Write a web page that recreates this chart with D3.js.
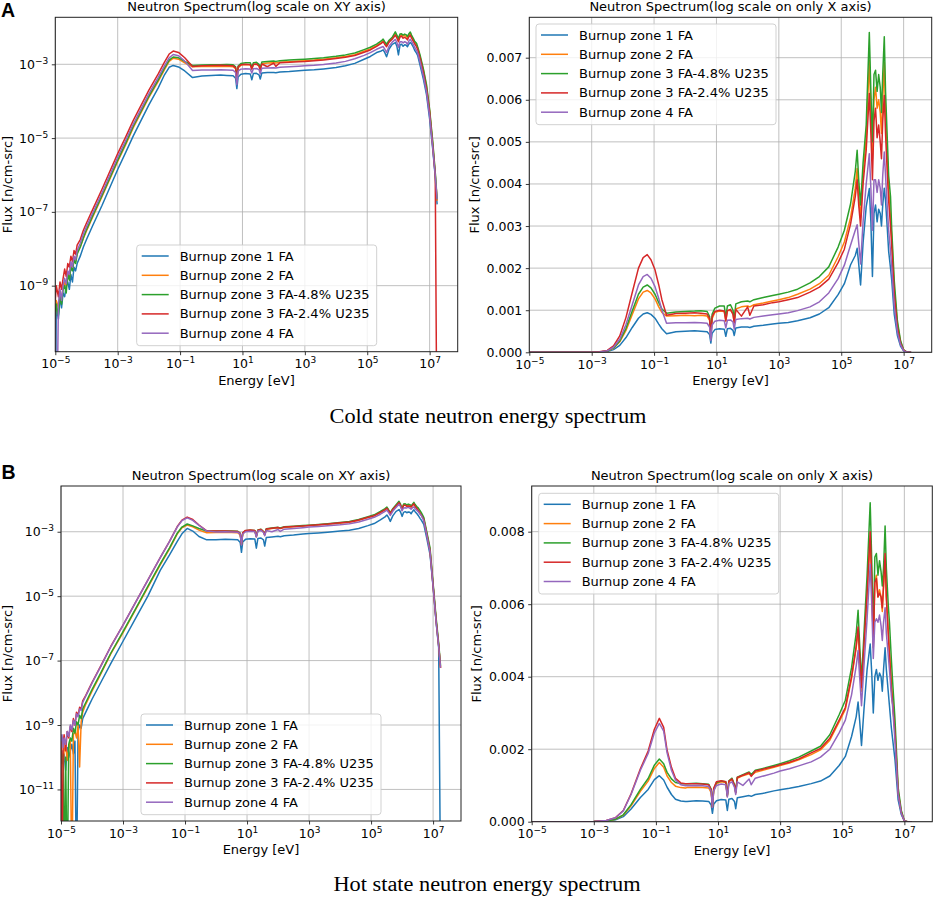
<!DOCTYPE html>
<html><head><meta charset="utf-8">
<script src="https://cdn.jsdelivr.net/npm/d3@7"></script>
<style>body{margin:0;background:#fff}svg{display:block}</style>
</head><body>
<svg id="fig" width="934" height="900"></svg>
<script>
// ---------------- DATA (energies as log10(E/eV), flux in n/cm-src) ----------------
const seriesNames = ["Burnup zone 1 FA","Burnup zone 2 FA","Burnup zone 3 FA-4.8% U235","Burnup zone 3 FA-2.4% U235","Burnup zone 4 FA"];
const seriesColors = ["#1f77b4","#ff7f0e","#2ca02c","#d62728","#9467bd"];
const xTickExp = [-5,-3,-1,1,3,5,7];
const coldLogYTickExp = [-9,-7,-5,-3];
const hotLogYTickExp = [-11,-9,-7,-5,-3];
const coldLinYTicks = [0,0.001,0.002,0.003,0.004,0.005,0.006,0.007];
const hotLinYTicks = [0,0.002,0.004,0.006,0.008];
const captions = ["Cold state neutron energy spectrum","Hot state neutron energy spectrum"];

// shared epithermal / fast energy grid (log10 E)
const midExp = [0.0,0.3,0.5,0.7,0.78,0.82,0.86,0.95,1.1,1.25,
 1.3,1.35,1.45,1.53,1.57,1.62,1.8,2.0,2.07,2.2,
 2.5,2.8,3.0,3.3,3.6,4.0,4.3,4.6,4.9,5.1,
 5.3,5.45,5.51,5.56,5.62,5.7,5.8,5.9,5.95,6.0,
 6.05,6.1,6.15,6.2,6.25,6.29,6.33,6.38,6.42,6.48,
 6.52,6.58,6.62,6.7,6.8,6.9,7.0,7.1,7.18,7.24];

// ---- COLD state ----
const coldLogThermExp = [-5.0,-4.97,-4.9,-4.85,-4.8,-4.75,-4.7,-4.65,-4.6,-4.55,-4.5,-4.45,-4.4,-4.35,-4.3,-4.2,-4.1,-4.0,-3.8,-3.5,-3.0,-2.75,-2.5,-2.0,-1.7,-1.5,-1.35,-1.22,-1.05,-0.85,-0.6,-0.3];
const coldLogZ1 = [1e-14,2.51e-10,1.26e-10,5.01e-10,2.51e-10,6.31e-10,5.01e-10,1.0e-9,1.26e-9,7.94e-10,2.0e-9,1.26e-9,3.16e-9,2.51e-9,3.98e-9,6.31e-9,1.12e-8,1.78e-8,4.27e-8,1.51e-7,1.41e-6,3.98e-6,1.15e-5,7.94e-5,2.3e-4,5.2e-4,8.3e-4,9.33e-4,8.5e-4,6.6e-4,4.37e-4,4.79e-4];
const coldLogZ2 = [1.58e-10,3.98e-10,2.51e-10,6.31e-10,4.47e-10,8.91e-10,1.26e-9,1.0e-9,2.24e-9,1.58e-9,3.55e-9,2.82e-9,5.01e-9,4.47e-9,7.94e-9,1.12e-8,1.91e-8,3.02e-8,7.24e-8,2.63e-7,2.34e-6,6.46e-6,1.91e-5,1.26e-4,3.45e-4,7.2e-4,1.2e-3,1.46e-3,1.38e-3,1.1e-3,8.6e-4,8.7e-4];
const coldLogZ3 = [1.26e-10,3.16e-10,1.58e-10,5.01e-10,3.16e-10,7.94e-10,1.0e-9,6.31e-10,2.0e-9,1.41e-9,3.16e-9,2.51e-9,5.01e-9,3.98e-9,7.08e-9,1.12e-8,2.0e-8,3.31e-8,7.94e-8,2.82e-7,2.51e-6,7.08e-6,2.09e-5,1.38e-4,3.8e-4,7.9e-4,1.3e-3,1.58e-3,1.5e-3,1.2e-3,9.3e-4,9.6e-4];
const coldLogZ3b = [3.98e-10,1.0e-9,5.01e-10,1.26e-9,7.94e-10,1.58e-9,2.82e-9,1.78e-9,3.98e-9,3.16e-9,6.31e-9,4.47e-9,8.91e-9,7.08e-9,1.26e-8,1.78e-8,3.16e-8,5.01e-8,1.17e-7,4.17e-7,3.8e-6,1.05e-5,3.02e-5,2.0e-4,5.5e-4,1.15e-3,1.9e-3,2.29e-3,2.1e-3,1.5e-3,8.7e-4,9.1e-4];
const coldLogZ4 = [2.0e-10,1e-14,3.16e-10,7.94e-10,3.98e-10,1.0e-9,1.58e-9,1.12e-9,2.51e-9,2.0e-9,4.47e-9,3.16e-9,6.31e-9,5.01e-9,8.91e-9,1.41e-8,2.51e-8,3.98e-8,9.33e-8,3.31e-7,3.02e-6,8.32e-6,2.4e-5,1.58e-4,4.4e-4,9.1e-4,1.5e-3,1.84e-3,1.7e-3,1.22e-3,6.8e-4,7.0e-4];

const coldLinThermExp = [-5.0,-3.5,-3.0,-2.75,-2.5,-2.3,-2.1,-1.9,-1.7,-1.5,-1.35,-1.22,-1.1,-0.97,-0.85,-0.75,-0.6,-0.3];
const coldLinZ1 = [0,4e-7,1.7e-6,5e-6,1.9e-5,6.3e-5,1.65e-4,3.5e-4,5.9e-4,8.1e-4,9.1e-4,9.4e-4,9.0e-4,8.1e-4,6.7e-4,5.6e-4,4.4e-4,4.9e-4];
const coldLinZ2 = [0,6e-7,2.5e-6,7.5e-6,2.8e-5,9.5e-5,2.5e-4,5.2e-4,9.0e-4,1.27e-3,1.43e-3,1.47e-3,1.41e-3,1.27e-3,1.08e-3,9.5e-4,8.6e-4,8.7e-4];
const coldLinZ3 = [0,7e-7,2.8e-6,8e-6,3.1e-5,1.04e-4,2.7e-4,5.7e-4,9.8e-4,1.38e-3,1.55e-3,1.6e-3,1.53e-3,1.38e-3,1.18e-3,1.03e-3,9.3e-4,9.6e-4];
const coldLinZ3b = [0,1e-6,4e-6,1.2e-5,4.5e-5,1.5e-4,3.9e-4,8.3e-4,1.42e-3,2.0e-3,2.25e-3,2.32e-3,2.2e-3,1.96e-3,1.6e-3,1.25e-3,8.8e-4,9.2e-4];
const coldLinZ4 = [0,8e-7,3.2e-6,1e-5,3.6e-5,1.2e-4,3.1e-4,6.6e-4,1.13e-3,1.6e-3,1.8e-3,1.85e-3,1.76e-3,1.56e-3,1.28e-3,1.0e-3,6.9e-4,7.0e-4];

const coldMidZ1 = [5.0e-4,5.1e-4,5.0e-4,4.9e-4,4.2e-4,2.2e-4,4.5e-4,5.4e-4,5.6e-4,5.5e-4,
 3.8e-4,5.6e-4,5.7e-4,5.2e-4,4.0e-4,5.8e-4,6.0e-4,6.0e-4,5.9e-4,6.2e-4,
 6.4e-4,6.7e-4,6.9e-4,7.1e-4,7.5e-4,8.2e-4,9.1e-4,1.06e-3,1.37e-3,1.63e-3,
 2.08e-3,2.3e-3,2.47e-3,2.1e-3,1.6e-3,2.6e-3,3.46e-3,3.89e-3,3.1e-3,1.8e-3,
 3.3e-3,3.5e-3,3.1e-3,3.4e-3,3.3e-3,3.0e-3,3.5e-3,3.9e-3,3.6e-3,2.9e-3,
 2.4e-3,2.0e-3,1.7e-3,9e-4,4e-4,1.5e-4,3.3e-5,5e-6,9e-7,1.6e-7];
const coldMidZ2 = [8.8e-4,8.7e-4,8.8e-4,8.6e-4,7.6e-4,3.4e-4,8.0e-4,9.5e-4,9.8e-4,9.7e-4,
 7.4e-4,9.9e-4,1.0e-3,9.2e-4,7.0e-4,1.03e-3,1.08e-3,1.1e-3,1.08e-3,1.13e-3,
 1.17e-3,1.22e-3,1.25e-3,1.3e-3,1.38e-3,1.5e-3,1.63e-3,1.83e-3,2.27e-3,2.62e-3,
 3.2e-3,3.9e-3,4.37e-3,3.7e-3,3.2e-3,4.2e-3,5.1e-3,6.94e-3,5.7e-3,4.6e-3,
 6.0e-3,6.3e-3,5.8e-3,6.0e-3,5.7e-3,5.2e-3,6.0e-3,6.9e-3,5.7e-3,4.6e-3,
 3.9e-3,3.2e-3,2.7e-3,1.5e-3,6.8e-4,2.5e-4,5.5e-5,7e-6,1.1e-6,2.0e-7];
const coldMidZ3 = [9.7e-4,9.8e-4,9.9e-4,9.7e-4,8.5e-4,3.8e-4,9.0e-4,1.05e-3,1.1e-3,1.1e-3,
 8.3e-4,1.1e-3,1.13e-3,1.0e-3,7.8e-4,1.15e-3,1.2e-3,1.22e-3,1.2e-3,1.25e-3,
 1.3e-3,1.35e-3,1.38e-3,1.43e-3,1.5e-3,1.65e-3,1.8e-3,2.03e-3,2.5e-3,2.9e-3,
 3.53e-3,4.3e-3,4.8e-3,4.1e-3,3.5e-3,4.5e-3,5.4e-3,7.6e-3,6.2e-3,5.0e-3,
 6.6e-3,6.7e-3,6.2e-3,6.6e-3,6.3e-3,5.7e-3,6.6e-3,7.5e-3,6.2e-3,5.0e-3,
 4.2e-3,3.7e-3,2.9e-3,1.7e-3,7.5e-4,2.8e-4,6e-5,8e-6,1.2e-6,2.2e-7];
const coldMidZ3b = [9.3e-4,9.4e-4,9.3e-4,9.1e-4,8.0e-4,3.5e-4,8.5e-4,9.7e-4,1.0e-3,9.8e-4,
 7.5e-4,9.9e-4,1.02e-3,9.0e-4,7.0e-4,1.02e-3,8.6e-4,1.08e-3,8.8e-4,1.1e-3,
 1.13e-3,1.18e-3,1.2e-3,1.25e-3,1.3e-3,1.43e-3,1.55e-3,1.74e-3,2.13e-3,2.45e-3,
 3.05e-3,3.7e-3,4.1e-3,3.5e-3,3.0e-3,4.0e-3,4.8e-3,6.15e-3,5.2e-3,4.1e-3,
 5.5e-3,5.8e-3,5.1e-3,5.4e-3,5.0e-3,4.6e-3,5.5e-3,6.1e-3,5.2e-3,4.2e-3,
 3.6e-3,3.0e-3,2.5e-3,1.4e-3,6e-4,2.2e-4,5e-5,6e-6,1e-6,1e-14];
const coldMidZ4 = [7.0e-4,7.1e-4,7.0e-4,6.9e-4,6.0e-4,2.8e-4,6.5e-4,7.4e-4,7.6e-4,7.5e-4,
 5.8e-4,7.6e-4,7.7e-4,7.2e-4,5.5e-4,7.8e-4,8.0e-4,8.1e-4,7.9e-4,8.3e-4,
 8.6e-4,8.9e-4,9.1e-4,9.4e-4,9.9e-4,1.08e-3,1.2e-3,1.41e-3,1.75e-3,2.07e-3,
 2.55e-3,2.9e-3,3.03e-3,2.6e-3,2.1e-3,3.1e-3,4.0e-3,4.72e-3,3.9e-3,2.9e-3,
 4.1e-3,4.1e-3,3.8e-3,4.1e-3,3.9e-3,3.5e-3,4.2e-3,4.76e-3,4.2e-3,3.4e-3,
 2.9e-3,2.4e-3,2.0e-3,1.1e-3,4.8e-4,1.8e-4,4e-5,5.5e-6,1e-6,2.2e-7];

// ---- HOT state ----
const hotLogThermExp = [-5.0,-4.97,-4.93,-4.9,-4.85,-4.8,-4.75,-4.7,-4.65,-4.6,-4.55,-4.5,-4.45,-4.4,-4.35,-4.3,-4.2,-4.1,-4.0,-3.7,-3.4,-3.0,-2.6,-2.2,-1.8,-1.5,-1.25,-1.1,-0.93,-0.75,-0.55,-0.3];
const hotLogZ1 = [1.0e-10,1.58e-10,6.31e-11,1.26e-10,3.98e-11,2.0e-10,1.0e-10,1.58e-10,2.51e-10,1.26e-10,3.16e-10,1e-14,6.31e-10,1.0e-9,7.94e-10,1.58e-9,2.51e-9,3.98e-9,6.31e-9,2.24e-8,7.94e-8,3.98e-7,2.0e-6,1.0e-5,6.31e-5,1.9e-4,5.0e-4,8.6e-4,1.27e-3,1.05e-3,7.1e-4,5.6e-4];
const hotLogZ2 = [2.0e-10,1.26e-10,5.01e-11,1.58e-10,2.51e-10,7.94e-11,2.0e-10,3.16e-10,1e-14,5.01e-10,6.31e-10,3.98e-10,1.0e-9,5.01e-11,1.26e-9,2.51e-9,4.47e-9,7.08e-9,1.12e-8,4.17e-8,1.58e-7,7.41e-7,3.72e-6,1.86e-5,9.33e-5,2.95e-4,8.6e-4,1.33e-3,1.62e-3,1.42e-3,1.12e-3,9.3e-4];
const hotLogZ3 = [1.58e-10,6.31e-11,1.26e-10,1e-14,1.0e-10,1e-14,2.51e-10,3.98e-10,3.16e-10,7.94e-10,5.62e-10,1.26e-9,1.0e-9,2.0e-9,1.58e-9,3.16e-9,5.01e-9,7.94e-9,1.26e-8,4.47e-8,1.66e-7,7.94e-7,3.98e-6,2.0e-5,1.0e-4,3.16e-4,9.0e-4,1.4e-3,1.74e-3,1.52e-3,1.26e-3,1.05e-3];
const hotLogZ3b = [3.98e-10,1e-14,2.51e-10,5.01e-10,1.58e-10,6.31e-10,3.98e-10,8.91e-10,6.31e-10,1.58e-9,1.0e-9,2.51e-9,2.0e-9,3.55e-9,3.16e-9,5.62e-9,8.32e-9,1.32e-8,2.09e-8,7.41e-8,2.69e-7,1.26e-6,6.31e-6,3.16e-5,1.58e-4,5.01e-4,1.45e-3,2.3e-3,2.85e-3,2.4e-3,1.62e-3,1.07e-3];
const hotLogZ4 = [3.16e-10,5.01e-10,2.0e-10,3.98e-10,2.51e-10,6.31e-10,4.47e-10,1.0e-9,7.08e-10,1.41e-9,1.0e-9,2.24e-9,1.78e-9,3.16e-9,2.82e-9,5.01e-9,7.94e-9,1.26e-8,2.0e-8,7.08e-8,2.63e-7,1.26e-6,6.31e-6,3.16e-5,1.58e-4,5.01e-4,1.42e-3,2.2e-3,2.69e-3,2.25e-3,1.58e-3,1.05e-3];

const hotLinThermExp = [-5.0,-3.5,-3.0,-2.6,-2.3,-2.05,-1.8,-1.5,-1.25,-1.05,-0.89,-0.75,-0.64,-0.5,-0.37,-0.2,-0.05];
const hotLinZ1 = [0,2e-7,2.2e-6,1.6e-5,5.2e-5,1.4e-4,3.5e-4,6.7e-4,8.9e-4,1.16e-3,1.27e-3,1.15e-3,9.5e-4,7.5e-4,6.2e-4,5.7e-4,5.6e-4];
const hotLinZ2 = [0,3e-7,2.8e-6,2.1e-5,6.5e-5,1.8e-4,4.4e-4,8.4e-4,1.12e-3,1.47e-3,1.63e-3,1.5e-3,1.26e-3,1.08e-3,9.8e-4,9.4e-4,9.3e-4];
const hotLinZ3 = [0,3e-7,3e-6,2.2e-5,6.9e-5,1.9e-4,4.7e-4,8.9e-4,1.19e-3,1.56e-3,1.73e-3,1.6e-3,1.36e-3,1.18e-3,1.08e-3,1.05e-3,1.05e-3];
const hotLinZ3b = [0,5e-7,5e-6,3.6e-5,1.12e-4,3.1e-4,7.7e-4,1.46e-3,1.95e-3,2.55e-3,2.85e-3,2.6e-3,1.97e-3,1.5e-3,1.2e-3,1.07e-3,1.05e-3];
const hotLinZ4 = [0,5e-7,5e-6,3.5e-5,1.1e-4,3e-4,7.5e-4,1.42e-3,1.88e-3,2.45e-3,2.71e-3,2.5e-3,1.9e-3,1.42e-3,1.15e-3,1.02e-3,9.9e-4];

const hotMidZ1 = [5.6e-4,5.8e-4,5.7e-4,5.6e-4,4.6e-4,2.3e-4,4.8e-4,5.8e-4,6.1e-4,6.0e-4,
 3.1e-4,6.2e-4,6.4e-4,5.6e-4,3.6e-4,6.6e-4,6.9e-4,7.2e-4,7.0e-4,7.5e-4,
 7.9e-4,8.5e-4,8.8e-4,9.2e-4,9.7e-4,1.05e-3,1.12e-3,1.26e-3,1.55e-3,1.8e-3,
 2.35e-3,2.9e-3,3.3e-3,2.8e-3,2.1e-3,3.1e-3,4.2e-3,4.9e-3,4.1e-3,3.0e-3,
 4.0e-3,4.2e-3,3.9e-3,4.1e-3,4.0e-3,3.6e-3,4.2e-3,4.8e-3,4.2e-3,3.6e-3,
 3.2e-3,2.6e-3,2.3e-3,1.7e-3,6e-4,2e-4,2e-5,1.5e-6,2.5e-7,1e-14];
const hotMidZ2 = [9.4e-4,9.5e-4,9.4e-4,9.3e-4,8.0e-4,4.0e-4,8.5e-4,1.05e-3,1.1e-3,1.08e-3,
 7.0e-4,1.1e-3,1.17e-3,1.0e-3,8.0e-4,1.2e-3,1.27e-3,1.32e-3,1.28e-3,1.36e-3,
 1.43e-3,1.5e-3,1.55e-3,1.62e-3,1.71e-3,1.85e-3,1.98e-3,2.25e-3,2.75e-3,3.1e-3,
 3.95e-3,4.8e-3,5.3e-3,4.5e-3,3.6e-3,4.8e-3,6.2e-3,7.8e-3,6.6e-3,4.9e-3,
 6.6e-3,6.8e-3,6.2e-3,6.4e-3,6.2e-3,5.8e-3,6.5e-3,7.2e-3,6.2e-3,5.3e-3,
 4.7e-3,3.9e-3,3.3e-3,2.5e-3,8.5e-4,2.8e-4,2.2e-5,1.7e-6,3e-7,6e-8];
const hotMidZ3 = [1.05e-3,1.06e-3,1.05e-3,1.03e-3,9.0e-4,4.2e-4,9.0e-4,1.08e-3,1.12e-3,1.1e-3,
 7.2e-4,1.13e-3,1.2e-3,1.02e-3,8.2e-4,1.23e-3,1.3e-3,1.37e-3,1.3e-3,1.42e-3,
 1.48e-3,1.55e-3,1.6e-3,1.68e-3,1.78e-3,1.95e-3,2.08e-3,2.4e-3,2.95e-3,3.35e-3,
 4.25e-3,5.2e-3,5.83e-3,4.9e-3,3.9e-3,5.2e-3,6.8e-3,8.8e-3,7.2e-3,5.2e-3,
 7.3e-3,7.4e-3,6.8e-3,7.2e-3,6.9e-3,6.5e-3,7.0e-3,8.16e-3,7.0e-3,6.0e-3,
 5.5e-3,4.5e-3,3.9e-3,2.8e-3,9.5e-4,3.2e-4,2.5e-5,2e-6,3.5e-7,7e-8];
const hotMidZ3b = [1.05e-3,1.05e-3,1.04e-3,1.02e-3,8.8e-4,4.1e-4,9.2e-4,1.1e-3,1.13e-3,1.1e-3,
 7.3e-4,1.12e-3,1.18e-3,1.0e-3,8.0e-4,1.22e-3,1.28e-3,1.35e-3,1.25e-3,1.4e-3,
 1.46e-3,1.52e-3,1.57e-3,1.64e-3,1.73e-3,1.9e-3,2.02e-3,2.3e-3,2.8e-3,3.15e-3,
 4.0e-3,4.85e-3,5.37e-3,4.6e-3,3.7e-3,4.9e-3,6.3e-3,8.0e-3,6.7e-3,4.8e-3,
 6.6e-3,6.7e-3,6.2e-3,6.3e-3,6.2e-3,5.9e-3,6.5e-3,7.4e-3,6.2e-3,5.2e-3,
 4.6e-3,3.7e-3,3.3e-3,2.4e-3,8e-4,2.6e-4,2.1e-5,1.6e-6,3e-7,6e-8];
const hotMidZ4 = [9.9e-4,1.0e-3,9.9e-4,9.7e-4,8.4e-4,3.9e-4,8.5e-4,1.0e-3,1.04e-3,1.02e-3,
 6.8e-4,1.05e-3,1.1e-3,9.5e-4,7.5e-4,1.1e-3,1.0e-3,1.18e-3,1.02e-3,1.2e-3,
 1.27e-3,1.34e-3,1.4e-3,1.46e-3,1.54e-3,1.65e-3,1.78e-3,2.0e-3,2.45e-3,2.8e-3,
 3.5e-3,4.3e-3,4.72e-3,4.0e-3,3.2e-3,4.3e-3,5.6e-3,7.1e-3,6.0e-3,4.5e-3,
 5.5e-3,5.6e-3,5.5e-3,5.7e-3,5.4e-3,5.0e-3,5.5e-3,5.9e-3,5.2e-3,4.6e-3,
 4.2e-3,3.5e-3,3.2e-3,2.2e-3,7.5e-4,2.4e-4,2e-5,1.5e-6,2.8e-7,6e-8];

// ---------------- LAYOUT ----------------
const FONT = "'DejaVu Sans', sans-serif";
const titleLog = "Neutron Spectrum(log scale on XY axis)";
const titleLin = "Neutron Spectrum(log scale on only X axis)";
const panels = [
  {id:"alog", l:55.3, r:457.7, t:17.3, b:351.7, yLog:true, yMinExp:-10.79, yMaxExp:-1.726, yTicks:coldLogYTickExp,
   thermExp:coldLogThermExp, therm:[coldLogZ1,coldLogZ2,coldLogZ3,coldLogZ3b,coldLogZ4],
   mid:[coldMidZ1,coldMidZ2,coldMidZ3,coldMidZ3b,coldMidZ4], title:titleLog, legX:136.7, legY:245, ylabX:7.3},
  {id:"alin", l:529.3, r:931.7, t:17.3, b:352.3, yLog:false, yMax:0.00796, yTicks:coldLinYTicks,
   thermExp:coldLinThermExp, therm:[coldLinZ1,coldLinZ2,coldLinZ3,coldLinZ3b,coldLinZ4],
   mid:[coldMidZ1,coldMidZ2,coldMidZ3,coldMidZ3b,coldMidZ4], title:titleLin, legX:536, legY:24, ylabX:474},
  {id:"blog", l:61, r:461, t:486, b:821, yLog:true, yMinExp:-11.98, yMaxExp:-1.58, yTicks:hotLogYTickExp,
   thermExp:hotLogThermExp, therm:[hotLogZ1,hotLogZ2,hotLogZ3,hotLogZ3b,hotLogZ4],
   mid:[hotMidZ1,hotMidZ2,hotMidZ3,hotMidZ3b,hotMidZ4], title:titleLog, legX:141, legY:714, ylabX:7.3},
  {id:"blin", l:531.7, r:932.3, t:486, b:821.7, yLog:false, yMax:0.00926, yTicks:hotLinYTicks,
   thermExp:hotLinThermExp, therm:[hotLinZ1,hotLinZ2,hotLinZ3,hotLinZ3b,hotLinZ4],
   mid:[hotMidZ1,hotMidZ2,hotMidZ3,hotMidZ3b,hotMidZ4], title:titleLin, legX:538.7, legY:493.3, ylabX:476.7}
];
const X_MAX_EXP = 7.9;

const svg = d3.select("#fig");
const defs = svg.append("defs");

function powLabels(axisG){
  axisG.selectAll(".tick text").each(function(d){
    const e = Math.round(Math.log10(d));
    const t = d3.select(this).text(null);
    t.append("tspan").text("10");
    t.append("tspan").attr("font-size","0.72em").attr("dy","-0.55em").text((e<0?"\u2212":"")+Math.abs(e));
  });
}

panels.forEach(p=>{
  const g = svg.append("g");
  const x = d3.scaleLog().domain([1e-5, Math.pow(10,X_MAX_EXP)]).range([p.l,p.r]);
  const y = p.yLog ? d3.scaleLog().domain([Math.pow(10,p.yMinExp), Math.pow(10,p.yMaxExp)]).range([p.b,p.t])
                   : d3.scaleLinear().domain([0,p.yMax]).range([p.b,p.t]);
  const xt = xTickExp.map(e=>Math.pow(10,e));
  const yt = p.yLog ? p.yTicks.map(e=>Math.pow(10,e)) : p.yTicks;

  defs.append("clipPath").attr("id","clip-"+p.id).append("rect")
    .attr("x",p.l).attr("y",p.t).attr("width",p.r-p.l).attr("height",p.b-p.t);

  // grid
  const grid = g.append("g").attr("stroke","#b0b0b0").attr("stroke-width",0.8);
  grid.selectAll("line.gx").data(xt).join("line").attr("class","gx")
    .attr("x1",d=>x(d)).attr("x2",d=>x(d)).attr("y1",p.t).attr("y2",p.b);
  grid.selectAll("line.gy").data(yt).join("line").attr("class","gy")
    .attr("x1",p.l).attr("x2",p.r).attr("y1",d=>y(d)).attr("y2",d=>y(d));

  // data lines
  const lg = g.append("g").attr("clip-path","url(#clip-"+p.id+")");
  seriesNames.forEach((name,i)=>{
    const pts = p.thermExp.map((e,j)=>[Math.pow(10,e), p.therm[i][j]])
      .concat(midExp.map((e,j)=>[Math.pow(10,e), p.mid[i][j]]));
    const line = d3.line().x(d=>x(d[0])).y(d=>y(p.yLog ? Math.max(d[1],1e-30) : d[1]));
    lg.append("path").attr("d",line(pts)).attr("fill","none")
      .attr("stroke",seriesColors[i]).attr("stroke-width",1.5)
      .attr("stroke-linejoin","round").attr("stroke-linecap","butt");
  });

  // frame
  g.append("rect").attr("x",p.l).attr("y",p.t).attr("width",p.r-p.l).attr("height",p.b-p.t)
    .attr("fill","none").attr("stroke","#222").attr("stroke-width",1);

  // axes
  const xa = g.append("g").attr("transform",`translate(0,${p.b})`)
    .call(d3.axisBottom(x).tickValues(xt).tickSize(3.5).tickPadding(4.2));
  xa.select(".domain").remove();
  xa.selectAll(".tick line").attr("stroke","#222").attr("stroke-width",0.9);
  xa.selectAll(".tick text").attr("font-size",12.5).attr("font-family",FONT).attr("fill","#000");
  powLabels(xa);

  const ya = g.append("g").attr("transform",`translate(${p.l},0)`)
    .call(d3.axisLeft(y).tickValues(yt).tickSize(3.5).tickPadding(3.5)
      .tickFormat(p.yLog ? null : d3.format(".3f")));
  ya.select(".domain").remove();
  ya.selectAll(".tick line").attr("stroke","#222").attr("stroke-width",0.9);
  ya.selectAll(".tick text").attr("font-size",12.5).attr("font-family",FONT).attr("fill","#000");
  if (p.yLog) powLabels(ya);

  // title and labels
  g.append("text").attr("x",(p.l+p.r)/2).attr("y",p.t-6).attr("text-anchor","middle")
    .attr("font-family",FONT).attr("font-size",13).text(p.title);
  g.append("text").attr("x",(p.l+p.r)/2).attr("y",p.b+33).attr("text-anchor","middle")
    .attr("font-family",FONT).attr("font-size",13).text("Energy [eV]");
  g.append("text").attr("transform",`translate(${p.ylabX+4.6},${(p.t+p.b)/2}) rotate(-90)`)
    .attr("text-anchor","middle").attr("font-family",FONT).attr("font-size",13).text("Flux [n/cm-src]");

  // legend
  const leg = g.append("g").attr("transform",`translate(${p.legX},${p.legY})`);
  leg.append("rect").attr("width",240).attr("height",100.7).attr("rx",3).attr("ry",3)
    .attr("fill","#fff").attr("fill-opacity",0.8).attr("stroke","#cccccc").attr("stroke-width",0.9);
  seriesNames.forEach((n,i)=>{
    const cy = 11 + i*19.3;
    leg.append("line").attr("x1",5).attr("x2",32).attr("y1",cy).attr("y2",cy)
      .attr("stroke",seriesColors[i]).attr("stroke-width",1.5);
    leg.append("text").attr("x",43).attr("y",cy+4.5).attr("font-family",FONT)
      .attr("font-size",13).text(n);
  });
});

// panel letters
svg.append("text").attr("x",1).attr("y",16.7).attr("font-family","'Liberation Sans', Arial, sans-serif")
  .attr("font-weight","bold").attr("font-size",19.5).text("A");
svg.append("text").attr("x",1.5).attr("y",479).attr("font-family","'Liberation Sans', Arial, sans-serif")
  .attr("font-weight","bold").attr("font-size",19.5).text("B");

// captions
svg.append("text").attr("x",488).attr("y",423).attr("text-anchor","middle")
  .attr("font-family","'Liberation Serif', 'Times New Roman', serif").attr("font-size",20)
  .attr("textLength",317).attr("lengthAdjust","spacingAndGlyphs").text(captions[0]);
svg.append("text").attr("x",487).attr("y",890.5).attr("text-anchor","middle")
  .attr("font-family","'Liberation Serif', 'Times New Roman', serif").attr("font-size",20)
  .attr("textLength",307).attr("lengthAdjust","spacingAndGlyphs").text(captions[1]);
</script>
</body></html>
